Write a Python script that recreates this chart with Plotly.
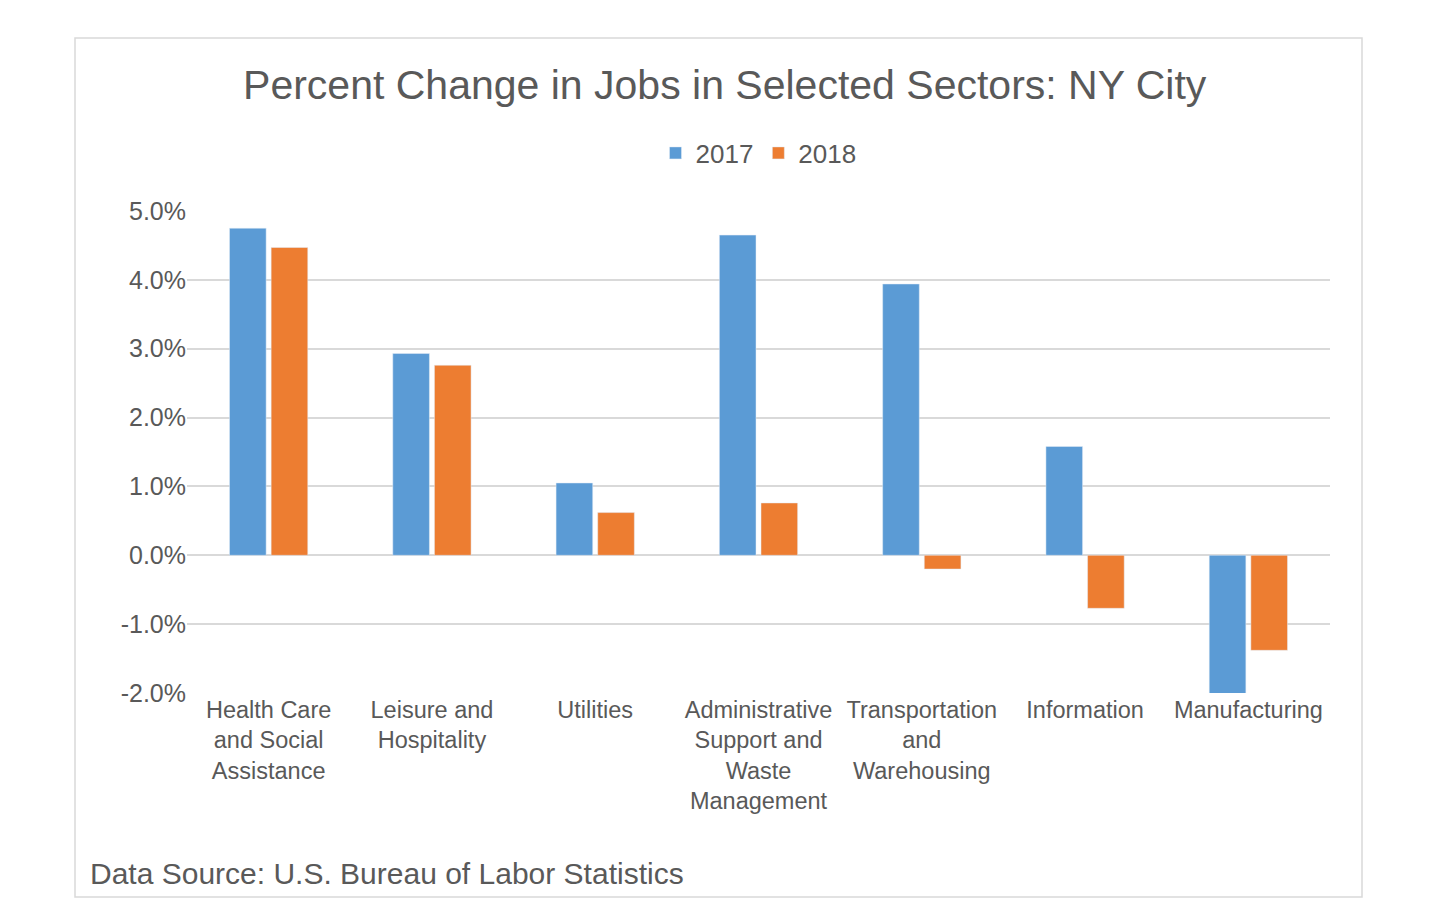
import plotly.graph_objects as go

categories = ["Health Care<br>and Social<br>Assistance", "Leisure and<br>Hospitality", "Utilities",
              "Administrative<br>Support and<br>Waste<br>Management", "Transportation<br>and<br>Warehousing",
              "Information", "Manufacturing"]
y2017 = [4.75, 2.93, 1.05, 4.65, 3.94, 1.58, -2.03]
y2018 = [4.47, 2.76, 0.62, 0.76, -0.20, -0.77, -1.38]
tick_vals = [-2, -1, 0, 1, 2, 3, 4, 5]
tick_text = ["-2.0%", "-1.0%", "0.0%", "1.0%", "2.0%", "3.0%", "4.0%", "5.0%"]

gray = "#595959"
fnt = "Liberation Sans, Arial, sans-serif"
fig = go.Figure()
fig.add_bar(x=categories, y=y2017, name="2017", marker_color="#5B9BD5")
fig.add_bar(x=categories, y=y2018, name="2018", marker_color="#ED7D31")
fig.update_layout(
    width=1442, height=924, paper_bgcolor="white", plot_bgcolor="white",
    margin=dict(l=179, r=120, t=203, b=239),
    barmode="group", bargap=0.49, bargroupgap=0.12,
    font=dict(family=fnt, color=gray),
    title=dict(text="Percent Change in Jobs in Selected Sectors: NY City", x=0.497, xanchor="center",
               y=1 - 77/924, yanchor="middle", font=dict(size=41, color=gray)),
    legend=dict(orientation="h", x=0.5, xanchor="center", y=1 + (211-153)/482, yanchor="middle",
                font=dict(size=26, color=gray), itemwidth=30, traceorder="normal"),
    yaxis=dict(range=[-2.0, 5.0], tickvals=tick_vals, ticktext=tick_text, gridcolor="#D9D9D9",
               gridwidth=2, zeroline=False, tickfont=dict(size=25, color=gray), ticklen=22,
               tickcolor="white", showline=False),
    xaxis=dict(tickfont=dict(size=23.5, color=gray), showline=False),
    showlegend=True,
)
fig.add_annotation(text="Data Source: U.S. Bureau of Labor Statistics", xref="paper", yref="paper",
                   x=(88-187)/1143, y=-(873-693)/482, xanchor="left", yanchor="middle",
                   showarrow=False, font=dict(size=30, color=gray))
fig.add_shape(type="rect", xref="paper", yref="paper", x0=(75-187)/1143, x1=(1362-187)/1143,
              y0=-(897-693)/482, y1=1 + (211-38)/482, line=dict(color="#D9D9D9", width=1.5))
fig.write_html("out.html")
